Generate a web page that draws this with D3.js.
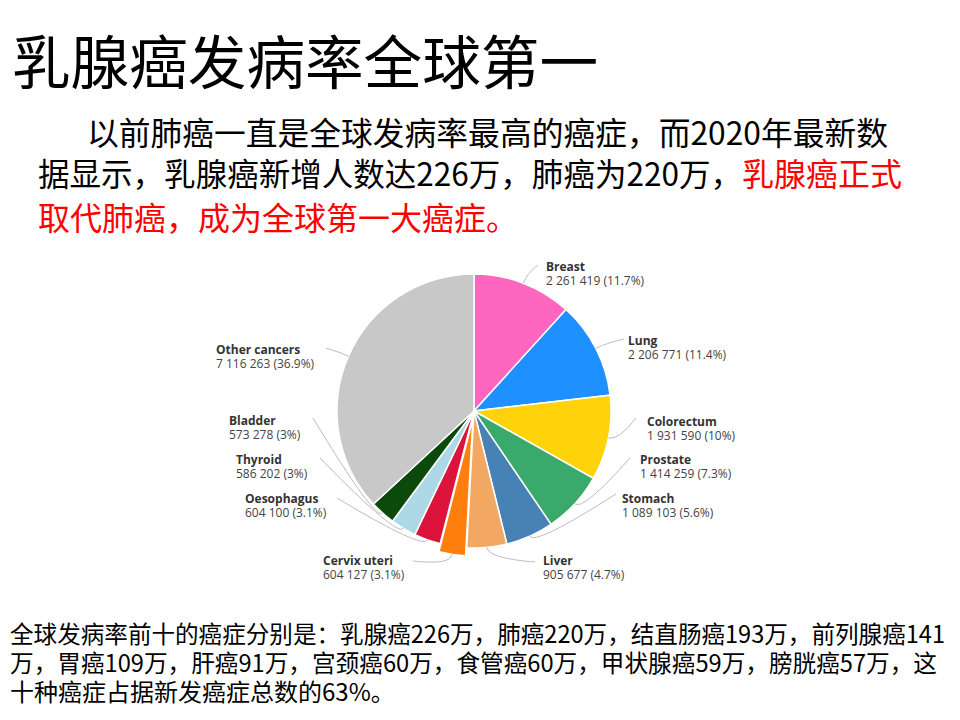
<!DOCTYPE html>
<html>
<head>
<meta charset="utf-8">
<script src="https://cdn.jsdelivr.net/npm/d3@7"></script>
<style>
  body { margin: 0; background: #fff; }
  svg { display: block; }
  .cjk { font-family: "Noto Sans CJK SC", sans-serif; }
  .lbl { font-family: "Open Sans", "Noto Sans", sans-serif; font-size: 12px; }
</style>
</head>
<body>
<div id="chart-area"></div>
<script>
// cancer categories and new cases (2020)
var categories = ["Breast", "Lung", "Colorectum", "Prostate", "Stomach", "Liver",
                  "Cervix uteri", "Oesophagus", "Thyroid", "Bladder", "Other cancers"];
var cases = [2261419, 2206771, 1931590, 1414259, 1089103, 905677,
             604127, 604100, 586202, 573278, 7116263];
var colors = ["#ff66bf", "#1e90ff", "#ffd30a", "#3aaa6c", "#4682b4", "#f2a862",
              "#ff7f0e", "#dc143c", "#add8e6", "#0b4a0b", "#c8c8c8"];

// page text
var title = "乳腺癌发病率全球第一";
var para = [
    "以前肺癌一直是全球发病率最高的癌症，而2020年最新数",
    "据显示，乳腺癌新增人数达226万，肺癌为220万，",
    "乳腺癌正式",
    "取代肺癌，成为全球第一大癌症。"
];
var notes = [
    "全球发病率前十的癌症分别是：乳腺癌226万，肺癌220万，结直肠癌193万，前列腺癌141",
    "万，胃癌109万，肝癌91万，宫颈癌60万，食管癌60万，甲状腺癌59万，膀胱癌57万，这",
    "十种癌症占据新发癌症总数的63%。"
];

// label layout: [text x, name baseline, leader end x, leader end y]
var labelPos = [
    [546, 271, 538, 265], [628, 345, 624, 339], [647, 426, 636, 418],
    [640, 464, 630, 458], [622, 503, 616, 494], [543, 565, 535, 562],
    [323, 565, 413, 561], [245, 503, 337, 498], [236, 464, 320, 458],
    [229, 425, 313, 418], [216, 354, 326, 348]
];

var width = 960, height = 720;
var cx = 474, cy = 411, radius = 137;

var svg = d3.select("#chart-area")
    .append("svg")
        .attr("width", width)
        .attr("height", height);

// Title
svg.append("text")
    .attr("class", "cjk")
    .attr("x", 12)
    .attr("y", 84)
    .attr("font-size", "58px")
    .attr("textLength", 586)
    .attr("lengthAdjust", "spacingAndGlyphs")
    .attr("fill", "#000")
    .text(title);

// Paragraph
var paraLines = [
    { t: para[0], x: 87, y: 145, w: 801, c: "#000" },
    { t: para[1], x: 38, y: 186, w: 704, c: "#000" },
    { t: para[2], x: 742, y: 186, w: 160, c: "#ff0000" },
    { t: para[3], x: 38, y: 230, w: null, c: "#ff0000" }
];
paraLines.forEach(function(d) {
    var el = svg.append("text")
        .attr("class", "cjk")
        .attr("x", d.x)
        .attr("y", d.y)
        .attr("font-size", "32px")
        .attr("fill", d.c)
        .text(d.t);
    if (d.w) el.attr("textLength", d.w).attr("lengthAdjust", "spacingAndGlyphs");
});

// Notes at the bottom
var noteW = [935, 927, null];
notes.forEach(function(t, i) {
    var el = svg.append("text")
        .attr("class", "cjk")
        .attr("x", 10)
        .attr("y", 643 + i * 29)
        .attr("font-size", "24px")
        .attr("fill", "#000")
        .text(t);
    if (noteW[i]) el.attr("textLength", noteW[i]).attr("lengthAdjust", "spacingAndGlyphs");
});

// Pie
var data = categories.map(function(c, i) {
    return { name: c, value: cases[i], color: colors[i], pos: labelPos[i] };
});
var total = d3.sum(cases);

var pie = d3.pie()
    .sort(null)
    .value(function(d) { return d.value; });

var arc = d3.arc()
    .innerRadius(0)
    .outerRadius(radius);

var arcs = pie(data);

var g = svg.append("g")
    .attr("transform", "translate(" + cx + "," + cy + ")");

function offsetOf(d) {
    // cervix slice is pulled out a little
    if (d.data.name !== "Cervix uteri") return [0, 0];
    var a = (d.startAngle + d.endAngle) / 2;
    return [Math.sin(a) * 8, -Math.cos(a) * 8];
}

g.selectAll("path.slice")
    .data(arcs)
    .enter()
    .append("path")
        .attr("class", "slice")
        .attr("d", arc)
        .attr("transform", function(d) {
            var o = offsetOf(d);
            return "translate(" + o[0] + "," + o[1] + ")";
        })
        .attr("fill", function(d) { return d.data.color; })
        .attr("stroke", "#fff")
        .attr("stroke-width", 1.5);

// Leader lines
g.selectAll("path.leader")
    .data(arcs)
    .enter()
    .append("path")
        .attr("class", "leader")
        .attr("fill", "none")
        .attr("stroke", "#bdbdbd")
        .attr("stroke-width", 1)
        .attr("d", function(d) {
            var a = (d.startAngle + d.endAngle) / 2;
            var o = offsetOf(d);
            var x0 = o[0] + Math.sin(a) * radius, y0 = o[1] - Math.cos(a) * radius;
            var x1 = o[0] + Math.sin(a) * (radius + 11), y1 = o[1] - Math.cos(a) * (radius + 11);
            var x2 = d.data.pos[2] - cx, y2 = d.data.pos[3] - cy;
            return "M" + x0 + "," + y0 + "Q" + x1 + "," + y1 + " " + x2 + "," + y2;
        });

// Labels
var fmt = d3.formatLocale({ decimal: ".", thousands: " ", grouping: [3], currency: ["", ""] }).format(",d");
function pct(v) {
    var p = (v / total * 100).toFixed(1);
    return p.replace(/\.0$/, "");
}

var labels = svg.selectAll("g.label")
    .data(data)
    .enter()
    .append("g")
        .attr("class", "label lbl");

labels.append("text")
    .attr("x", function(d) { return d.pos[0]; })
    .attr("y", function(d) { return d.pos[1]; })
    .attr("font-weight", "bold")
    .attr("fill", "#333")
    .text(function(d) { return d.name; });

labels.append("text")
    .attr("x", function(d) { return d.pos[0]; })
    .attr("y", function(d) { return d.pos[1] + 13.5; })
    .attr("fill", "#444")
    .text(function(d) { return fmt(d.value) + " (" + pct(d.value) + "%)"; });
</script>
</body>
</html>
